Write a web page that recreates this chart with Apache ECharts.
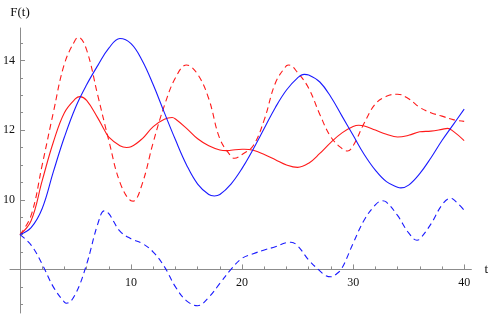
<!DOCTYPE html>
<html>
<head>
<meta charset="utf-8">
<script src="https://cdn.jsdelivr.net/npm/echarts@6/dist/echarts.min.js"></script>
<style>html,body{margin:0;padding:0;background:#fff}#c{width:491px;height:315px}</style>
</head>
<body>
<div id="c"></div>
<script>
// ---- data ----
var redSolidT = [0,1,2,3,4,5,5.4,6,7,7.6,8,9,9.6,10,11,12,13,13.7,14,15,16,17,18,18.6,19,20,20.2,21,22,23,24,25,26,27,28,29,30,30.5,31,32,33,34,35,36,37,38,38.5,39,40];
var redSolidV = [9.0,9.4,10.55,11.65,12.5,12.9,12.96,12.85,12.35,12.0,11.8,11.55,11.5,11.52,11.75,12.1,12.31,12.36,12.32,12.05,11.75,11.55,11.43,11.41,11.42,11.45,11.45,11.42,11.3,11.15,11.0,10.93,11.05,11.33,11.65,11.92,12.1,12.14,12.12,12.0,11.88,11.8,11.85,11.95,11.97,12.02,12.05,11.97,11.7];

var redDashT = [0,1,2,3,4,5,5.27,6,7,8,9,10,10.2,11,12,13,14,15,16,17,18,19,19.3,20,21,22,23,24,24.2,25,26,27,28,29,29.5,30,31,32,33,34,35,36,37,38,39,40];
var redDashV = [9.0,9.55,11.0,12.5,13.9,14.6,14.66,14.3,13.0,11.7,10.5,9.97,9.96,10.45,11.65,12.7,13.5,13.87,13.6,12.9,11.75,11.25,11.19,11.3,11.55,12.3,13.35,13.85,13.87,13.65,13.2,12.45,11.8,11.47,11.4,11.55,12.2,12.75,12.97,13.03,12.9,12.65,12.5,12.4,12.3,12.25];

var blueSolidT = [0,1,2,3,4,5,6,7,8,9,10,11,12,13,14,15,16,17,17.5,18,19,20,21,22,23,24,25,25.6,26,27,28,29,30,31,32,33,34,34.3,35,36,37,38,39,40];
var blueSolidV = [9.0,9.2,9.75,10.8,11.8,12.65,13.3,13.85,14.35,14.63,14.48,14.0,13.3,12.5,11.72,11.0,10.45,10.15,10.11,10.15,10.45,10.9,11.45,12.05,12.65,13.15,13.5,13.6,13.58,13.38,12.95,12.4,11.85,11.3,10.85,10.52,10.36,10.34,10.42,10.75,11.2,11.7,12.15,12.6];

var blueDashT = [0,1,2,3,4,4.2,5,6,7,7.6,8,9,10,11,12,13,14,15,16,17,18,19,20,21,22,23,24,24.4,25,26,27,27.5,28,28.5,29,30,31,32,32.6,33,34,35,35.75,36,37,38,38.75,39,40];
var blueDashV = [9.0,8.7,8.15,7.5,7.06,7.03,7.3,8.15,9.3,9.68,9.6,9.1,8.88,8.75,8.5,8.08,7.5,7.1,6.96,7.2,7.6,8.0,8.32,8.45,8.56,8.65,8.77,8.78,8.68,8.27,7.96,7.83,7.79,7.87,8.04,8.75,9.42,9.85,9.97,9.93,9.55,9.05,8.84,8.87,9.3,9.85,10.04,10.02,9.7];

var xMajorTicks = [10,20,30,40];
var xMinorTicks = [2,4,6,8,12,14,16,18,22,24,26,28,32,34,36,38];
var yMajorTicks = [10,12,14];
var yMinorTicks = [7,7.5,8.5,9,9.5,10.5,11,11.5,12.5,13,13.5,14.5];

// ---- layout ----
var W = 491, H = 315;
var gLeft = 10, gRight = 18, gTop = 28, gBottom = 2;
var xMin = -0.9, xMax = 40.65, yMin = 6.75, yMax = 14.93;
var xCross = 8; // horizontal axis drawn at F = 8
var gW = W - gLeft - gRight, gH = H - gTop - gBottom;
var xAxisOffset = -((xCross - yMin) / (yMax - yMin)) * gH;
var yAxisOffset = -((0 - xMin) / (xMax - xMin)) * gW;

function zip(t, v) { return t.map(function (x, i) { return [x, v[i]]; }); }

var axisColor = '#8c8c8c';
var font = 'Liberation Serif';

function xAx(major) {
  return {
    type: 'value', min: xMin, max: xMax, position: 'bottom', offset: xAxisOffset,
    axisLine: { show: major, onZero: false, lineStyle: { color: axisColor, width: 1 } },
    axisTick: { show: true, inside: true, length: major ? 5 : 3, customValues: major ? xMajorTicks : xMinorTicks, lineStyle: { color: axisColor } },
    axisLabel: { show: major, customValues: xMajorTicks, margin: 7, fontFamily: font, fontSize: 12, color: '#111' },
    splitLine: { show: false },
    name: major ? 't' : '', nameLocation: 'end', nameGap: 13,
    nameTextStyle: { fontFamily: font, fontSize: 13, color: '#111' }
  };
}
function yAx(major) {
  return {
    type: 'value', min: yMin, max: yMax, position: 'left', offset: yAxisOffset,
    axisLine: { show: major, onZero: false, lineStyle: { color: axisColor, width: 1 } },
    axisTick: { show: true, inside: true, length: major ? 5 : 3, customValues: major ? yMajorTicks : yMinorTicks, lineStyle: { color: axisColor } },
    axisLabel: { show: major, customValues: yMajorTicks, margin: 5, fontFamily: font, fontSize: 12, color: '#111' },
    splitLine: { show: false },
    name: major ? 'F(t)' : '', nameLocation: 'end', nameGap: 9,
    nameTextStyle: { fontFamily: font, fontSize: 13, color: '#111' }
  };
}

function line(name, data, color, dashed) {
  return {
    name: name, type: 'line', data: data, smooth: 0.4, showSymbol: false, silent: true,
    xAxisIndex: 0, yAxisIndex: 0,
    lineStyle: { color: color, width: 1.1, type: dashed ? [6, 4] : 'solid' },
    z: 3
  };
}

var chart = echarts.init(document.getElementById('c'), null, { renderer: 'canvas' });
chart.setOption({
  animation: false,
  backgroundColor: '#fff',
  grid: { left: gLeft, right: gRight, top: gTop, bottom: gBottom, containLabel: false },
  xAxis: [xAx(true), xAx(false)],
  yAxis: [yAx(true), yAx(false)],
  series: [
    line('red dashed', zip(redDashT, redDashV), '#ff1a1a', true),
    line('blue dashed', zip(blueDashT, blueDashV), '#1a1aff', true),
    line('red', zip(redSolidT, redSolidV), '#ff1a1a', false),
    line('blue', zip(blueSolidT, blueSolidV), '#1a1aff', false)
  ]
});
</script>
</body>
</html>
